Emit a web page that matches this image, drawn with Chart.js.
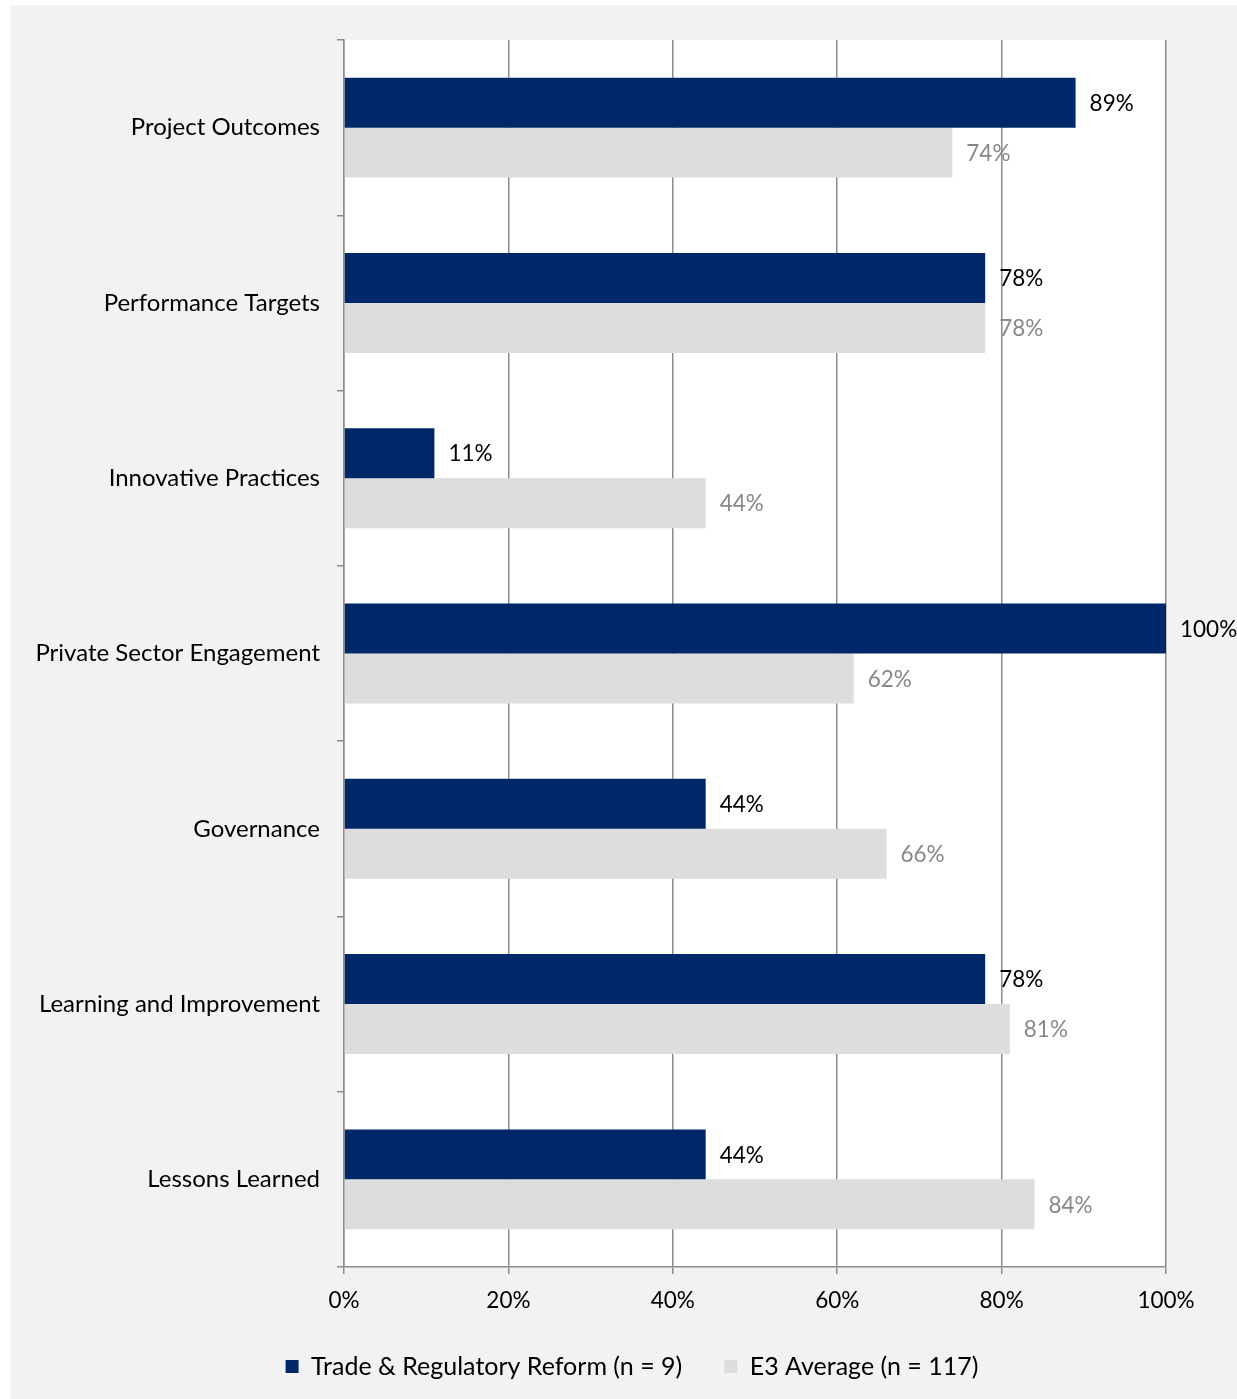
<!DOCTYPE html>
<html>
<head>
<meta charset="utf-8">
<script src="https://cdn.jsdelivr.net/npm/chart.js@4/dist/chart.umd.min.js"></script>
<style>
  body { margin: 0; background: #ffffff; }
  #panel { position: absolute; left: 11px; top: 5px; width: 1226px; height: 1394px; background: #f2f2f2; }
</style>
</head>
<body>
<div id="panel"><canvas id="myChart" width="1226" height="1394"></canvas></div>
<script>
var categories = [
    'Project Outcomes',
    'Performance Targets',
    'Innovative Practices',
    'Private Sector Engagement',
    'Governance',
    'Learning and Improvement',
    'Lessons Learned'
];
var tradeValues = [89, 78, 11, 100, 44, 78, 44];
var e3Values = [74, 78, 44, 62, 66, 81, 84];
var seriesNames = ['Trade & Regulatory Reform (n = 9)', 'E3 Average (n = 117)'];
var xTicks = [0, 20, 40, 60, 80, 100];

var fontFamily = 'Lato, "Open Sans", sans-serif';
var axisGray = '#8c8c8c';

// white plot area on the grey panel
var plotBackground = {
    id: 'plotBackground',
    beforeDraw: function (chart) {
        var a = chart.chartArea;
        var ctx = chart.ctx;
        ctx.save();
        ctx.fillStyle = '#ffffff';
        ctx.fillRect(a.left, a.top, a.right - a.left, a.bottom - a.top);
        ctx.restore();
    }
};

// value labels just past the end of each bar
var valueLabels = {
    id: 'valueLabels',
    afterDatasetsDraw: function (chart) {
        var ctx = chart.ctx;
        var colors = ['#000000', '#888888'];
        ctx.save();
        ctx.font = '22.5px ' + fontFamily;
        ctx.textBaseline = 'middle';
        ctx.textAlign = 'left';
        chart.data.datasets.forEach(function (ds, i) {
            var meta = chart.getDatasetMeta(i);
            ctx.fillStyle = colors[i];
            meta.data.forEach(function (bar, j) {
                ctx.fillText(ds.data[j] + '%', bar.x + 14, bar.y + 1);
            });
        });
        ctx.restore();
    }
};

var ctx = document.getElementById('myChart').getContext('2d');

var chart = new Chart(ctx, {
    type: 'bar',
    data: {
        labels: categories,
        datasets: [{
            label: seriesNames[0],
            data: tradeValues,
            yAxisID: 'y',
            backgroundColor: '#002868',
            borderWidth: 0
        }, {
            label: seriesNames[1],
            data: e3Values,
            yAxisID: 'y',
            backgroundColor: '#dddddd',
            borderWidth: 0
        }]
    },
    options: {
        indexAxis: 'y',
        responsive: false,
        animation: false,
        categoryPercentage: 0.57,
        barPercentage: 1.0,
        layout: {
            padding: { top: 35, right: 0, bottom: 10, left: 16 }
        },
        scales: {
            x: {
                min: 0,
                max: 100,
                afterBuildTicks: function (scale) {
                    scale.ticks = xTicks.map(function (v) { return { value: v }; });
                },
                afterFit: function (scale) {
                    scale.height = 45;
                },
                grid: {
                    color: axisGray,
                    lineWidth: 1.5,
                    tickLength: 7
                },
                border: { color: axisGray, width: 1.5 },
                ticks: {
                    color: '#000000',
                    padding: 13,
                    font: { family: fontFamily, size: 22.5 },
                    callback: function (v) { return v + '%'; }
                }
            },
            y: {
                afterFit: function (scale) {
                    scale.width = 317;
                },
                grid: {
                    offset: true,
                    drawOnChartArea: false,
                    color: axisGray,
                    lineWidth: 1.5,
                    tickLength: 7
                },
                border: { color: axisGray, width: 1.5 },
                ticks: {
                    color: '#000000',
                    padding: 17,
                    font: { family: fontFamily, size: 24 }
                }
            },
            // empty margin on the right, room for the 100% label
            yMargin: {
                type: 'category',
                axis: 'y',
                position: 'right',
                grid: { display: false },
                border: { display: false },
                ticks: { display: false },
                afterFit: function (scale) {
                    scale.width = 71;
                }
            }
        },
        plugins: {
            legend: {
                position: 'bottom',
                labels: {
                    color: '#000000',
                    boxWidth: 13,
                    boxHeight: 13,
                    padding: 42,
                    font: { family: fontFamily, size: 25 }
                }
            },
            tooltip: { enabled: false }
        }
    },
    plugins: [plotBackground, valueLabels]
});
</script>
</body>
</html>
